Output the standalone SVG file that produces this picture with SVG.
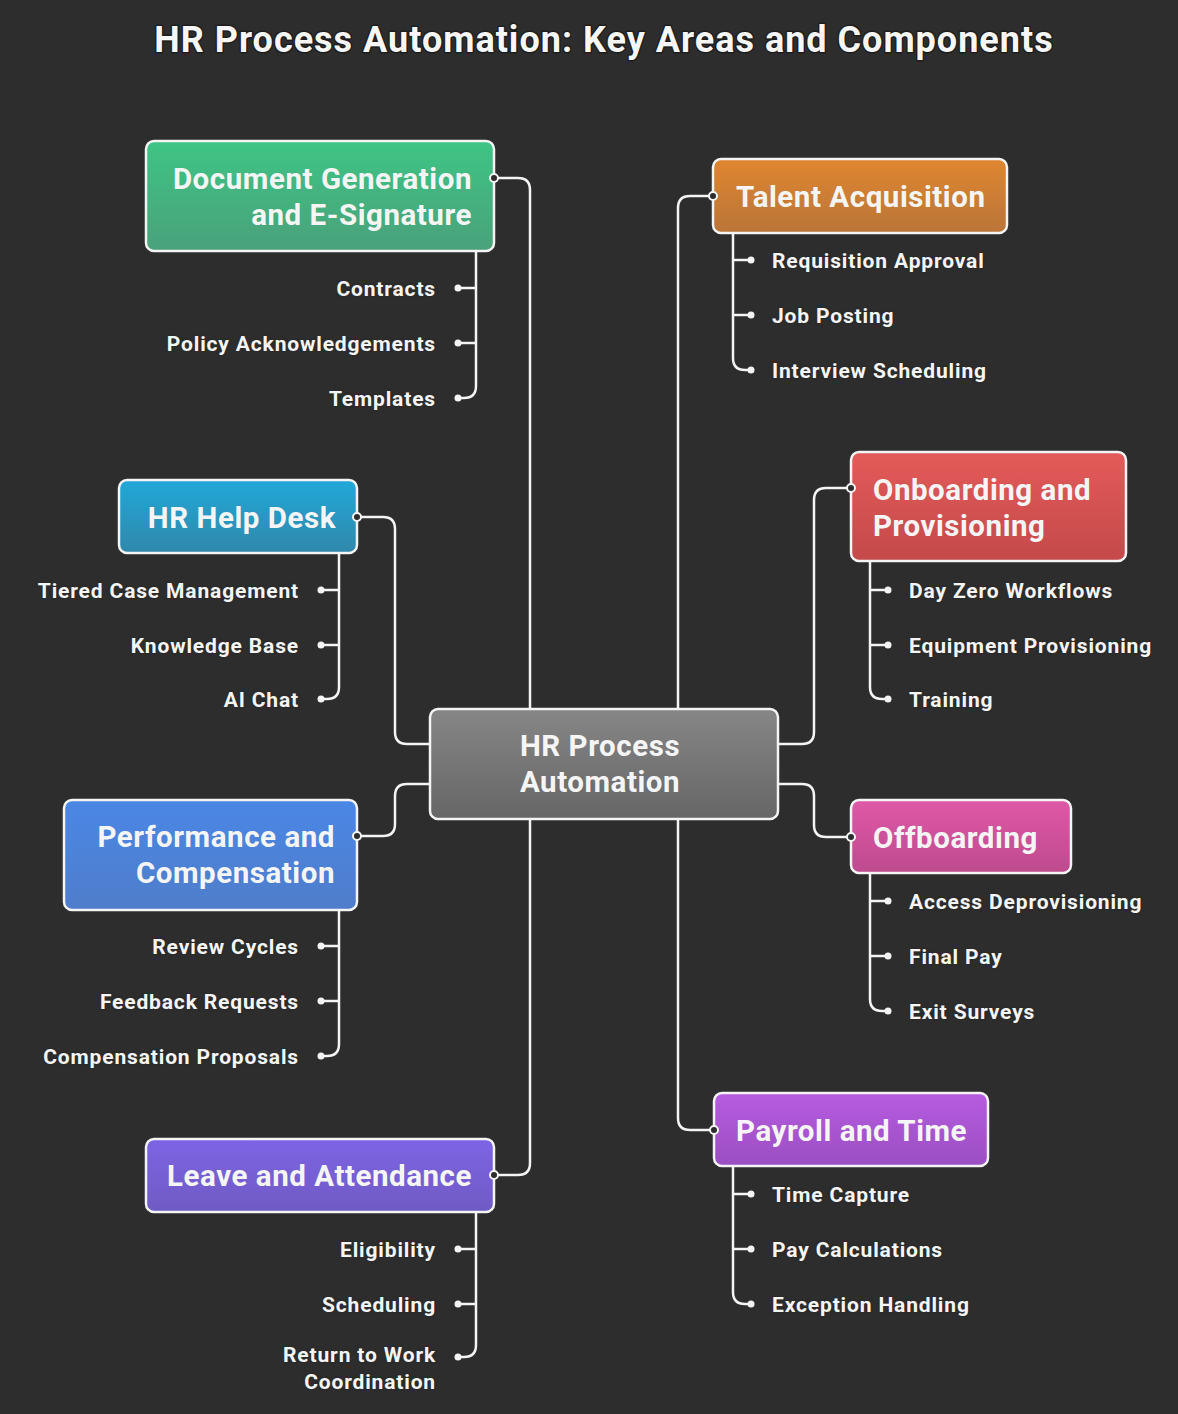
<svg xmlns="http://www.w3.org/2000/svg" width="1178" height="1414" viewBox="0 0 1178 1414">
<defs>
<linearGradient id="gGreen" x1="0" y1="0" x2="0" y2="1"><stop offset="0" stop-color="#3ec585"/><stop offset="1" stop-color="#4aa17a"/></linearGradient>
<linearGradient id="gOrange" x1="0" y1="0" x2="0" y2="1"><stop offset="0" stop-color="#e08630"/><stop offset="1" stop-color="#b97538"/></linearGradient>
<linearGradient id="gRed" x1="0" y1="0" x2="0" y2="1"><stop offset="0" stop-color="#e35b58"/><stop offset="1" stop-color="#c4494a"/></linearGradient>
<linearGradient id="gCyan" x1="0" y1="0" x2="0" y2="1"><stop offset="0" stop-color="#20a8d8"/><stop offset="1" stop-color="#3188ab"/></linearGradient>
<linearGradient id="gBlue" x1="0" y1="0" x2="0" y2="1"><stop offset="0" stop-color="#4a87e6"/><stop offset="1" stop-color="#4f7dca"/></linearGradient>
<linearGradient id="gPink" x1="0" y1="0" x2="0" y2="1"><stop offset="0" stop-color="#df58a7"/><stop offset="1" stop-color="#be4a8e"/></linearGradient>
<linearGradient id="gPurple" x1="0" y1="0" x2="0" y2="1"><stop offset="0" stop-color="#b75be0"/><stop offset="1" stop-color="#9a4fc2"/></linearGradient>
<linearGradient id="gViolet" x1="0" y1="0" x2="0" y2="1"><stop offset="0" stop-color="#7e64e5"/><stop offset="1" stop-color="#6f5bc4"/></linearGradient>
<linearGradient id="gGray" x1="0" y1="0" x2="0" y2="1"><stop offset="0" stop-color="#868686"/><stop offset="1" stop-color="#666666"/></linearGradient>
</defs>
<style>
.box{stroke:#f4f4f4;stroke-width:2.5}
.nt{font-family:Roboto,"Liberation Sans",sans-serif;font-weight:700;font-size:29.5px;letter-spacing:0.55px;fill:#f5f5f5}
.lb{font-family:Roboto,"Liberation Sans",sans-serif;font-weight:700;font-size:21px;letter-spacing:0.85px;fill:#f5f5f5;stroke:#2b2b2b;stroke-width:4;paint-order:stroke;stroke-linejoin:round}
.title{font-family:Roboto,"Liberation Sans",sans-serif;font-weight:700;font-size:36px;letter-spacing:1px;fill:#f7f7f7;stroke:#1e1e1e;stroke-width:3;paint-order:stroke;stroke-linejoin:round}
.ln{fill:none;stroke:#f4f4f4;stroke-width:2.5;stroke-linecap:round}
.dot{fill:#f4f4f4}
.port{fill:#2d2d2d;stroke:#f4f4f4;stroke-width:2}
.r{text-anchor:end}
.c{text-anchor:middle}
</style>
<rect width="1178" height="1414" fill="#2d2d2d"/>
<text class="title c" x="604" y="52">HR Process Automation: Key Areas and Components</text>

<g id="connectors">
<path class="ln" d="M530,709 V190 Q530,178 518,178 H494"/>
<path class="ln" d="M678,709 V208 Q678,196 690,196 H713"/>
<path class="ln" d="M778,744 H802 Q814,744 814,732 V500 Q814,488 826,488 H851"/>
<path class="ln" d="M778,784 H802 Q814,784 814,796 V825 Q814,837 826,837 H851"/>
<path class="ln" d="M678,819 V1118 Q678,1130 690,1130 H714"/>
<path class="ln" d="M530,819 V1163 Q530,1175 518,1175 H494"/>
<path class="ln" d="M430,744 H407 Q395,744 395,732 V529 Q395,517 383,517 H357"/>
<path class="ln" d="M430,784 H407 Q395,784 395,796 V824 Q395,836 383,836 H357"/>

<path class="ln" d="M476,251 V386 Q476,398 464,398 H458 M476,288 H458 M476,343 H458"/>
<path class="ln" d="M733,233 V358 Q733,370 745,370 H751 M733,260 H751 M733,315 H751"/>
<path class="ln" d="M870,561 V687 Q870,699 882,699 H888 M870,590 H888 M870,645 H888"/>
<path class="ln" d="M339,553 V687 Q339,699 327,699 H321 M339,590 H321 M339,645 H321"/>
<path class="ln" d="M339,910 V1044 Q339,1056 327,1056 H321 M339,946 H321 M339,1001 H321"/>
<path class="ln" d="M870,873 V999 Q870,1011 882,1011 H888 M870,901 H888 M870,956 H888"/>
<path class="ln" d="M733,1166 V1292 Q733,1304 745,1304 H751 M733,1194 H751 M733,1249 H751"/>
<path class="ln" d="M476,1212 V1345 Q476,1357 464,1357 H458 M476,1249 H458 M476,1304 H458"/>

<circle class="dot" cx="458" cy="288" r="3.5"/><circle class="dot" cx="458" cy="343" r="3.5"/><circle class="dot" cx="458" cy="398" r="3.5"/>
<circle class="dot" cx="751" cy="260" r="3.5"/><circle class="dot" cx="751" cy="315" r="3.5"/><circle class="dot" cx="751" cy="370" r="3.5"/>
<circle class="dot" cx="888" cy="590" r="3.5"/><circle class="dot" cx="888" cy="645" r="3.5"/><circle class="dot" cx="888" cy="699" r="3.5"/>
<circle class="dot" cx="321" cy="590" r="3.5"/><circle class="dot" cx="321" cy="645" r="3.5"/><circle class="dot" cx="321" cy="699" r="3.5"/>
<circle class="dot" cx="321" cy="946" r="3.5"/><circle class="dot" cx="321" cy="1001" r="3.5"/><circle class="dot" cx="321" cy="1056" r="3.5"/>
<circle class="dot" cx="888" cy="901" r="3.5"/><circle class="dot" cx="888" cy="956" r="3.5"/><circle class="dot" cx="888" cy="1011" r="3.5"/>
<circle class="dot" cx="751" cy="1194" r="3.5"/><circle class="dot" cx="751" cy="1249" r="3.5"/><circle class="dot" cx="751" cy="1304" r="3.5"/>
<circle class="dot" cx="458" cy="1249" r="3.5"/><circle class="dot" cx="458" cy="1304" r="3.5"/><circle class="dot" cx="458" cy="1357" r="3.5"/>
</g>

<g id="node-center">
<rect class="box" x="430" y="709" width="348" height="110" rx="8" fill="url(#gGray)"/>
<text class="nt c" x="600" y="755.5">HR Process</text>
<text class="nt c" x="600" y="792">Automation</text>
</g>

<g id="node-docs">
<rect class="box" x="146" y="141" width="348" height="110" rx="8" fill="url(#gGreen)"/>
<text class="nt r" x="472" y="188.5">Document Generation</text>
<text class="nt r" x="472" y="225">and E-Signature</text>
<circle class="port" cx="494" cy="178" r="4"/>
<text class="lb r" x="436" y="295.5">Contracts</text>
<text class="lb r" x="436" y="350.5">Policy Acknowledgements</text>
<text class="lb r" x="436" y="405.5">Templates</text>
</g>

<g id="node-talent">
<rect class="box" x="713" y="159" width="294" height="74" rx="8" fill="url(#gOrange)"/>
<text class="nt" x="736" y="206.5">Talent Acquisition</text>
<circle class="port" cx="713" cy="196" r="4"/>
<text class="lb" x="772" y="267.5">Requisition Approval</text>
<text class="lb" x="772" y="322.5">Job Posting</text>
<text class="lb" x="772" y="377.5">Interview Scheduling</text>
</g>

<g id="node-onboarding">
<rect class="box" x="851" y="452" width="275" height="109" rx="8" fill="url(#gRed)"/>
<text class="nt" x="873" y="499.5">Onboarding and</text>
<text class="nt" x="873" y="536">Provisioning</text>
<circle class="port" cx="851" cy="488" r="4"/>
<text class="lb" x="909" y="597.5">Day Zero Workflows</text>
<text class="lb" x="909" y="652.5">Equipment Provisioning</text>
<text class="lb" x="909" y="706.5">Training</text>
</g>

<g id="node-helpdesk">
<rect class="box" x="119" y="480" width="238" height="73" rx="8" fill="url(#gCyan)"/>
<text class="nt r" x="336" y="527.5">HR Help Desk</text>
<circle class="port" cx="357" cy="517" r="4"/>
<text class="lb r" x="299" y="597.5">Tiered Case Management</text>
<text class="lb r" x="299" y="652.5">Knowledge Base</text>
<text class="lb r" x="299" y="706.5">AI Chat</text>
</g>

<g id="node-performance">
<rect class="box" x="64" y="800" width="293" height="110" rx="8" fill="url(#gBlue)"/>
<text class="nt r" x="335" y="846.5">Performance and</text>
<text class="nt r" x="335" y="883">Compensation</text>
<circle class="port" cx="357" cy="836" r="4"/>
<text class="lb r" x="299" y="953.5">Review Cycles</text>
<text class="lb r" x="299" y="1008.5">Feedback Requests</text>
<text class="lb r" x="299" y="1063.5">Compensation Proposals</text>
</g>

<g id="node-offboarding">
<rect class="box" x="851" y="800" width="220" height="73" rx="8" fill="url(#gPink)"/>
<text class="nt" x="873" y="847.5">Offboarding</text>
<circle class="port" cx="851" cy="837" r="4"/>
<text class="lb" x="909" y="908.5">Access Deprovisioning</text>
<text class="lb" x="909" y="963.5">Final Pay</text>
<text class="lb" x="909" y="1018.5">Exit Surveys</text>
</g>

<g id="node-payroll">
<rect class="box" x="714" y="1093" width="274" height="73" rx="8" fill="url(#gPurple)"/>
<text class="nt" x="736" y="1140.5">Payroll and Time</text>
<circle class="port" cx="714" cy="1130" r="4"/>
<text class="lb" x="772" y="1201.5">Time Capture</text>
<text class="lb" x="772" y="1256.5">Pay Calculations</text>
<text class="lb" x="772" y="1311.5">Exception Handling</text>
</g>

<g id="node-leave">
<rect class="box" x="146" y="1139" width="348" height="73" rx="8" fill="url(#gViolet)"/>
<text class="nt r" x="472" y="1185.5">Leave and Attendance</text>
<circle class="port" cx="494" cy="1175" r="4"/>
<text class="lb r" x="436" y="1256.5">Eligibility</text>
<text class="lb r" x="436" y="1311.5">Scheduling</text>
<text class="lb r" x="436" y="1362">Return to Work</text>
<text class="lb r" x="436" y="1389">Coordination</text>
</g>
</svg>
